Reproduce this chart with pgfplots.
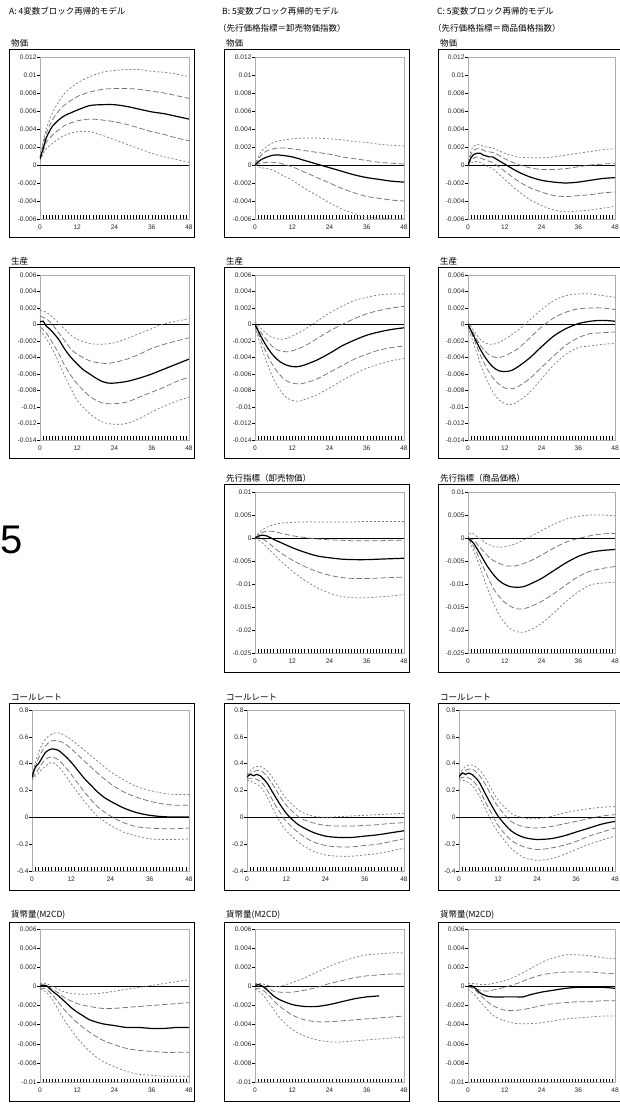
\documentclass[border=0pt]{standalone}
\usepackage{pgfplots}
\pgfplotsset{compat=1.18}
\usepackage{fontspec}
\setmainfont{Liberation Sans}
\newfontfamily\jp{Noto Sans CJK JP}
\pgfplotsset{
 panel/.style={scale only axis, anchor=south west, xmin=0, xmax=48,
  xtick={0,12,24,36,48}, minor x tick num=11, xtick pos=left, ytick pos=left,
  tick align=inside, axis line style={draw=gray!65, line width=0.5pt},
  every tick/.style={black, line width=0.35pt},
  major tick length=3.5pt, minor tick length=3.5pt,
  y tick style={xshift=-3pt},
  ticklabel style={font=\fontsize{6.6}{7}\selectfont, text=black!85},
  x tick label style={yshift=-2pt},
  /pgf/number format/assume math mode=true,
  scaled y ticks=false,
  yticklabel style={/pgf/number format/fixed, /pgf/number format/precision=3},
 },
 r1/.style={ymin=-0.006, ymax=0.012, ytick={-0.006,-0.004,-0.002,0,0.002,0.004,0.006,0.008,0.01,0.012}},
 r2/.style={ymin=-0.014, ymax=0.006, ytick={-0.014,-0.012,-0.01,-0.008,-0.006,-0.004,-0.002,0,0.002,0.004,0.006}},
 r3/.style={ymin=-0.025, ymax=0.01, ytick={-0.025,-0.02,-0.015,-0.01,-0.005,0,0.005,0.01}},
 r4/.style={ymin=-0.4, ymax=0.8, ytick={-0.4,-0.2,0,0.2,0.4,0.6,0.8}},
 r5/.style={ymin=-0.01, ymax=0.006, ytick={-0.01,-0.008,-0.006,-0.004,-0.002,0,0.002,0.004,0.006}},
 mid/.style={black, line width=1.2pt, smooth},
 ld/.style={black!55, line width=0.75pt, dash pattern=on 5.5pt off 2.5pt, smooth},
 sd/.style={black!50, line width=0.75pt, dash pattern=on 2pt off 2pt, smooth},
 zl/.style={black, line width=0.4pt},
}
\newcommand{\ttl}[3]{\node[anchor=west, inner sep=0pt, font=\jp\fontsize{8.5}{9}\selectfont] at (#1pt,#2pt) {#3};}
\begin{document}
\begin{tikzpicture}
% header
\node[anchor=west, inner sep=0pt, font=\jp\fontsize{8.5}{9}\selectfont] at (9pt,1093pt) {A:\ 4変数ブロック再帰的モデル};
\node[anchor=west, inner sep=0pt, font=\jp\fontsize{8.5}{9}\selectfont] at (222pt,1093pt) {B:\ 5変数ブロック再帰的モデル};
\node[anchor=west, inner sep=0pt, font=\jp\fontsize{8.5}{9}\selectfont] at (218pt,1076pt) {（先行価格指標＝卸売物価指数）};
\node[anchor=west, inner sep=0pt, font=\jp\fontsize{8.5}{9}\selectfont] at (437pt,1093pt) {C:\ 5変数ブロック再帰的モデル};
\node[anchor=west, inner sep=0pt, font=\jp\fontsize{8.5}{9}\selectfont] at (433pt,1076pt) {（先行価格指標＝商品価格指数）};
\node[font=\fontsize{40}{44}\selectfont, inner sep=0pt, anchor=west] at (0.5pt,564pt) {5};
% frames
\draw[black, line width=0.6pt] (9pt,1055pt) rectangle (194pt,867pt);
\draw[black, line width=0.6pt] (224pt,1055pt) rectangle (409pt,867pt);
\draw[black, line width=0.6pt] (438pt,1055pt) rectangle (625pt,867pt);
\draw[black, line width=0.6pt] (9pt,837pt) rectangle (194pt,646pt);
\draw[black, line width=0.6pt] (224pt,837pt) rectangle (409pt,646pt);
\draw[black, line width=0.6pt] (438pt,837pt) rectangle (625pt,646pt);
\draw[black, line width=0.6pt] (224pt,620pt) rectangle (409pt,432pt);
\draw[black, line width=0.6pt] (438pt,620pt) rectangle (625pt,432pt);
\draw[black, line width=0.6pt] (9pt,401pt) rectangle (194pt,214pt);
\draw[black, line width=0.6pt] (224pt,401pt) rectangle (409pt,214pt);
\draw[black, line width=0.6pt] (438pt,401pt) rectangle (625pt,214pt);
\draw[black, line width=0.6pt] (9pt,182pt) rectangle (194pt,3pt);
\draw[black, line width=0.6pt] (224pt,182pt) rectangle (409pt,3pt);
\draw[black, line width=0.6pt] (438pt,182pt) rectangle (625pt,3pt);
% titles
\ttl{11}{1061}{物価}\ttl{226}{1061}{物価}\ttl{440}{1061}{物価}
\ttl{11}{843}{生産}\ttl{226}{843}{生産}\ttl{440}{843}{生産}
\ttl{226}{626}{先行指標（卸売物価）}\ttl{440}{626}{先行指標（商品価格）}
\ttl{11}{407}{コールレート}\ttl{226}{407}{コールレート}\ttl{440}{407}{コールレート}
\ttl{11}{189}{貨幣量(M2CD)}\ttl{226}{189}{貨幣量(M2CD)}\ttl{440}{189}{貨幣量(M2CD)}

% ===== Row 1 =====
\begin{axis}[panel, r1, at={(40pt,885pt)}, width=149pt, height=162pt]
\addplot[zl] coordinates {(0,0)(48,0)};
\addplot[sd] coordinates {(0,0.0009)(1,0.0025)(2,0.004)(4,0.0058)(6,0.007)(8,0.008)(12,0.0091)(16,0.0098)(20,0.0103)(24,0.0105)(28,0.0106)(32,0.0106)(36,0.0104)(40,0.0103)(44,0.0101)(48,0.0098)};
\addplot[ld] coordinates {(0,0.0008)(1,0.0022)(2,0.0035)(4,0.005)(6,0.006)(8,0.0067)(12,0.0076)(16,0.0081)(20,0.0084)(24,0.0085)(28,0.0085)(32,0.0084)(36,0.0082)(40,0.008)(44,0.0077)(48,0.0074)};
\addplot[ld] coordinates {(0,0.0006)(1,0.0015)(2,0.0025)(4,0.0033)(6,0.0039)(8,0.0044)(12,0.0049)(16,0.0051)(20,0.005)(24,0.0048)(28,0.0045)(32,0.0041)(36,0.0037)(40,0.0034)(44,0.003)(48,0.0027)};
\addplot[sd] coordinates {(0,0.0005)(1,0.0012)(2,0.0018)(4,0.0024)(6,0.0029)(8,0.0033)(12,0.0037)(16,0.0037)(20,0.0033)(24,0.0028)(28,0.0023)(32,0.0018)(36,0.0013)(40,0.0009)(44,0.0006)(48,0.0003)};
\addplot[mid] coordinates {(0,0.0007)(1,0.0018)(2,0.003)(3,0.0037)(4,0.0043)(6,0.005)(8,0.0055)(10,0.0058)(12,0.0061)(16,0.0066)(20,0.0067)(24,0.0067)(28,0.0065)(32,0.0062)(36,0.0059)(40,0.0057)(44,0.0054)(48,0.0051)};
\end{axis}
\begin{axis}[panel, r1, at={(255pt,885pt)}, width=149pt, height=162pt]
\addplot[zl] coordinates {(0,0)(48,0)};
\addplot[sd] coordinates {(0,0)(2,0.0015)(4,0.0021)(6,0.0025)(8,0.0027)(12,0.0029)(16,0.003)(20,0.003)(24,0.0029)(28,0.0028)(32,0.0026)(36,0.0025)(40,0.0023)(44,0.0022)(48,0.0021)};
\addplot[ld] coordinates {(0,0)(2,0.0011)(4,0.0016)(6,0.0018)(8,0.0019)(12,0.0018)(16,0.0016)(20,0.0014)(24,0.0012)(28,0.0009)(32,0.0007)(36,0.0005)(40,0.0003)(44,0.0002)(48,0.0001)};
\addplot[ld] coordinates {(0,0)(2,0.0002)(4,0.0003)(6,0.0003)(8,0.0002)(12,-0.0002)(16,-0.0008)(20,-0.0014)(24,-0.002)(28,-0.0026)(32,-0.0031)(36,-0.0035)(40,-0.0037)(44,-0.0039)(48,-0.004)};
\addplot[sd] coordinates {(0,0)(2,-0.0003)(4,-0.0004)(6,-0.0006)(8,-0.001)(12,-0.0017)(16,-0.0026)(20,-0.0034)(24,-0.0042)(28,-0.0049)(32,-0.0054)(36,-0.0058)(40,-0.0059)(44,-0.006)(48,-0.006)};
\addplot[mid] coordinates {(0,0)(2,0.0006)(4,0.0009)(6,0.0011)(8,0.0011)(12,0.0009)(16,0.0005)(20,0.0001)(24,-0.0003)(28,-0.0007)(32,-0.0011)(36,-0.0014)(40,-0.0016)(44,-0.0018)(48,-0.0019)};
\end{axis}
\begin{axis}[panel, r1, at={(468pt,885pt)}, width=147pt, height=162pt]
\addplot[zl] coordinates {(0,0)(48,0)};
\addplot[sd] coordinates {(0,0)(1,0.0016)(2,0.0021)(3,0.0023)(4,0.0022)(6,0.002)(8,0.0019)(10,0.0016)(12,0.0013)(16,0.0009)(20,0.0008)(24,0.0008)(28,0.0009)(32,0.0011)(36,0.0013)(40,0.0015)(44,0.0017)(48,0.0018)};
\addplot[ld] coordinates {(0,0)(1,0.0012)(2,0.0017)(3,0.0018)(4,0.0018)(6,0.0015)(8,0.0014)(10,0.0011)(12,0.0007)(16,0.0001)(20,-0.0003)(24,-0.0005)(28,-0.0005)(32,-0.0004)(36,-0.0002)(40,0)(44,0.0001)(48,0.0002)};
\addplot[ld] coordinates {(0,0)(1,0.0005)(2,0.0008)(3,0.0009)(4,0.0008)(6,0.0005)(8,0.0003)(10,-0.0002)(12,-0.0007)(16,-0.0017)(20,-0.0025)(24,-0.003)(28,-0.0034)(32,-0.0035)(36,-0.0034)(40,-0.0033)(44,-0.0031)(48,-0.003)};
\addplot[sd] coordinates {(0,0)(1,0.0002)(2,0.0004)(3,0.0004)(4,0.0003)(6,-0.0001)(8,-0.0004)(10,-0.001)(12,-0.0016)(16,-0.0028)(20,-0.0038)(24,-0.0045)(28,-0.005)(32,-0.0052)(36,-0.0051)(40,-0.005)(44,-0.0048)(48,-0.0046)};
\addplot[mid] coordinates {(0,0)(1,0.0008)(2,0.0012)(3,0.0013)(4,0.0013)(5,0.0011)(6,0.001)(7,0.0009)(8,0.0009)(10,0.0005)(12,0.0001)(16,-0.0007)(20,-0.0013)(24,-0.0017)(28,-0.0019)(32,-0.002)(36,-0.0019)(40,-0.0017)(44,-0.0015)(48,-0.0014)};
\end{axis}

% ===== Row 2 =====
\begin{axis}[panel, r2, at={(40pt,664pt)}, width=149pt, height=165pt]
\addplot[zl] coordinates {(0,0)(48,0)};
\addplot[sd] coordinates {(0,0.0017)(2,0.0015)(4,0.0009)(6,0.0002)(8,-0.0006)(10,-0.0013)(12,-0.0018)(16,-0.0023)(20,-0.0024)(24,-0.0022)(28,-0.0017)(32,-0.0011)(36,-0.0005)(40,0.0001)(44,0.0004)(48,0.0007)};
\addplot[ld] coordinates {(0,0.001)(2,0.0007)(4,0)(6,-0.001)(8,-0.002)(10,-0.003)(12,-0.0036)(16,-0.0044)(20,-0.0047)(22,-0.0047)(24,-0.0046)(28,-0.0042)(32,-0.0036)(36,-0.0029)(40,-0.0024)(44,-0.002)(48,-0.0016)};
\addplot[ld] coordinates {(0,-0.0003)(2,-0.001)(4,-0.0022)(6,-0.0035)(8,-0.005)(10,-0.0062)(12,-0.0072)(16,-0.0087)(20,-0.0095)(24,-0.0096)(28,-0.0094)(32,-0.0088)(36,-0.0082)(40,-0.0076)(44,-0.0069)(48,-0.0064)};
\addplot[sd] coordinates {(0,-0.0007)(2,-0.0017)(4,-0.003)(6,-0.0046)(8,-0.0063)(10,-0.0078)(12,-0.0092)(16,-0.0108)(20,-0.0118)(24,-0.0121)(28,-0.012)(32,-0.0114)(36,-0.0106)(40,-0.0099)(44,-0.0093)(48,-0.0088)};
\addplot[mid] coordinates {(0,0.0003)(1,0.0004)(2,-0.0002)(3,-0.0005)(4,-0.0009)(6,-0.0018)(8,-0.003)(10,-0.004)(12,-0.0048)(14,-0.0055)(16,-0.006)(18,-0.0065)(20,-0.0069)(22,-0.0071)(24,-0.0071)(28,-0.0069)(32,-0.0065)(36,-0.006)(40,-0.0054)(44,-0.0048)(48,-0.0042)};
\end{axis}
\begin{axis}[panel, r2, at={(255pt,664pt)}, width=149pt, height=165pt]
\addplot[zl] coordinates {(0,0)(48,0)};
\addplot[sd] coordinates {(0,0.0003)(2,-0.0005)(4,-0.0012)(6,-0.0016)(8,-0.0018)(10,-0.0017)(12,-0.0014)(16,-0.0006)(20,0.0004)(24,0.0014)(28,0.0022)(32,0.0029)(36,0.0033)(40,0.0036)(44,0.0037)(48,0.0037)};
\addplot[ld] coordinates {(0,0)(2,-0.001)(4,-0.002)(6,-0.0028)(8,-0.0032)(10,-0.0033)(12,-0.0032)(16,-0.0026)(20,-0.0017)(24,-0.0008)(28,0)(32,0.0007)(36,0.0013)(40,0.0017)(44,0.002)(48,0.0022)};
\addplot[ld] coordinates {(0,0)(2,-0.002)(4,-0.0037)(6,-0.0051)(8,-0.0061)(10,-0.0068)(12,-0.0071)(14,-0.0072)(16,-0.0071)(20,-0.0066)(24,-0.0058)(28,-0.005)(32,-0.0042)(36,-0.0036)(40,-0.0031)(44,-0.0028)(48,-0.0026)};
\addplot[sd] coordinates {(0,-0.0003)(2,-0.0027)(4,-0.0048)(6,-0.0066)(8,-0.0079)(10,-0.0088)(12,-0.0092)(14,-0.0093)(16,-0.0091)(20,-0.0085)(24,-0.0077)(28,-0.0068)(32,-0.006)(36,-0.0053)(40,-0.0048)(44,-0.0044)(48,-0.0041)};
\addplot[mid] coordinates {(0,0)(2,-0.0015)(4,-0.0028)(6,-0.0038)(8,-0.0045)(10,-0.0049)(12,-0.0051)(14,-0.0051)(16,-0.0049)(20,-0.0043)(24,-0.0035)(28,-0.0026)(32,-0.0019)(36,-0.0013)(40,-0.0009)(44,-0.0006)(48,-0.0004)};
\end{axis}
\begin{axis}[panel, r2, at={(468pt,664pt)}, width=147pt, height=165pt]
\addplot[zl] coordinates {(0,0)(48,0)};
\addplot[sd] coordinates {(0,0.0003)(2,-0.0008)(4,-0.0018)(6,-0.0023)(8,-0.0024)(10,-0.0022)(12,-0.0018)(16,-0.0008)(20,0.0005)(24,0.0018)(28,0.0029)(32,0.0035)(36,0.0037)(40,0.0037)(44,0.0035)(48,0.0033)};
\addplot[ld] coordinates {(0,0)(2,-0.0012)(4,-0.0025)(6,-0.0034)(8,-0.0039)(10,-0.004)(12,-0.0038)(16,-0.003)(20,-0.0017)(24,-0.0003)(28,0.0008)(32,0.0015)(36,0.0019)(40,0.002)(44,0.002)(48,0.0018)};
\addplot[ld] coordinates {(0,0)(2,-0.0018)(4,-0.0037)(6,-0.0052)(8,-0.0064)(10,-0.0072)(12,-0.0077)(14,-0.0078)(16,-0.0076)(20,-0.0066)(24,-0.0052)(28,-0.0038)(32,-0.0025)(36,-0.0016)(40,-0.0011)(44,-0.001)(48,-0.0009)};
\addplot[sd] coordinates {(0,-0.0003)(2,-0.0025)(4,-0.0047)(6,-0.0066)(8,-0.0081)(10,-0.0091)(12,-0.0096)(14,-0.0097)(16,-0.0094)(20,-0.0083)(24,-0.0066)(28,-0.0049)(32,-0.0036)(36,-0.0028)(40,-0.0026)(44,-0.0024)(48,-0.0023)};
\addplot[mid] coordinates {(0,0)(2,-0.0015)(4,-0.003)(6,-0.0042)(8,-0.0051)(10,-0.0056)(12,-0.0057)(14,-0.0056)(16,-0.0052)(20,-0.0041)(24,-0.0027)(28,-0.0014)(32,-0.0005)(36,0.0001)(40,0.0004)(44,0.0005)(48,0.0004)};
\end{axis}

% ===== Row 3 =====
\begin{axis}[panel, r3, at={(255pt,451pt)}, width=149pt, height=161pt]
\addplot[zl] coordinates {(0,0)(48,0)};
\addplot[sd] coordinates {(0,0)(2,0.0016)(4,0.0024)(6,0.0029)(8,0.0032)(12,0.0034)(16,0.0035)(20,0.0035)(24,0.0035)(28,0.0035)(32,0.0035)(36,0.0036)(40,0.0036)(44,0.0036)(48,0.0036)};
\addplot[ld] coordinates {(0,0)(2,0.0011)(4,0.0015)(6,0.0014)(8,0.0011)(12,0.0005)(16,0.0001)(20,-0.0002)(24,-0.0004)(28,-0.0005)(32,-0.0006)(36,-0.0006)(40,-0.0006)(44,-0.0005)(48,-0.0005)};
\addplot[ld] coordinates {(0,0)(2,0)(4,-0.0009)(6,-0.002)(8,-0.0031)(12,-0.0048)(16,-0.0062)(20,-0.0073)(24,-0.0081)(28,-0.0086)(32,-0.0088)(36,-0.0088)(40,-0.0087)(44,-0.0086)(48,-0.0085)};
\addplot[sd] coordinates {(0,0)(2,-0.0008)(4,-0.0021)(6,-0.0035)(8,-0.0048)(12,-0.0072)(16,-0.0092)(20,-0.0108)(24,-0.012)(28,-0.0127)(32,-0.013)(36,-0.013)(40,-0.0128)(44,-0.0126)(48,-0.0123)};
\addplot[mid] coordinates {(0,0)(2,0.0006)(4,0.0004)(6,-0.0003)(8,-0.0009)(12,-0.0021)(16,-0.0031)(20,-0.0039)(24,-0.0043)(28,-0.0046)(32,-0.0047)(36,-0.0047)(40,-0.0046)(44,-0.0045)(48,-0.0044)};
\end{axis}
\begin{axis}[panel, r3, at={(468pt,451pt)}, width=147pt, height=161pt]
\addplot[zl] coordinates {(0,0)(48,0)};
\addplot[sd] coordinates {(0,0)(1,0.0012)(2,0.0008)(4,-0.0002)(6,-0.0012)(8,-0.0017)(10,-0.002)(12,-0.0019)(14,-0.0016)(16,-0.0011)(20,0.0002)(24,0.0016)(28,0.003)(32,0.0041)(36,0.0047)(40,0.005)(44,0.005)(48,0.0048)};
\addplot[ld] coordinates {(0,0)(2,-0.0006)(4,-0.0021)(6,-0.0036)(8,-0.0048)(12,-0.006)(14,-0.0061)(16,-0.006)(20,-0.0051)(24,-0.0037)(28,-0.0022)(32,-0.0009)(36,-0.0001)(40,0.0005)(44,0.0009)(48,0.001)};
\addplot[ld] coordinates {(0,0)(2,-0.002)(4,-0.0049)(6,-0.0078)(8,-0.0106)(10,-0.0126)(12,-0.014)(14,-0.0149)(16,-0.0154)(18,-0.0154)(20,-0.015)(24,-0.0138)(28,-0.0121)(32,-0.0102)(36,-0.0084)(40,-0.0072)(44,-0.0066)(48,-0.0062)};
\addplot[sd] coordinates {(0,0)(2,-0.003)(4,-0.0065)(6,-0.0103)(8,-0.0137)(10,-0.0165)(12,-0.0185)(14,-0.0198)(16,-0.0204)(18,-0.0205)(20,-0.0201)(24,-0.0186)(28,-0.0163)(32,-0.0138)(36,-0.0117)(40,-0.0102)(44,-0.0098)(48,-0.0096)};
\addplot[mid] coordinates {(0,0)(1,-0.0006)(2,-0.0013)(4,-0.0035)(6,-0.0058)(8,-0.0077)(10,-0.0092)(12,-0.0101)(14,-0.0106)(16,-0.0107)(18,-0.0106)(20,-0.0101)(24,-0.0088)(28,-0.0071)(32,-0.0054)(36,-0.004)(40,-0.0031)(44,-0.0027)(48,-0.0025)};
\end{axis}

% ===== Row 4 =====
\begin{axis}[panel, r4, at={(32pt,233pt)}, width=157pt, height=161pt]
\addplot[zl] coordinates {(0,0)(48,0)};
\addplot[sd] coordinates {(0,0.32)(2,0.48)(4,0.58)(6,0.62)(8,0.63)(10,0.61)(12,0.58)(16,0.5)(20,0.42)(24,0.34)(28,0.28)(32,0.23)(36,0.2)(40,0.18)(44,0.17)(48,0.17)};
\addplot[ld] coordinates {(0,0.31)(2,0.44)(4,0.53)(6,0.57)(8,0.57)(10,0.55)(12,0.51)(16,0.42)(20,0.33)(24,0.25)(28,0.19)(32,0.15)(36,0.12)(40,0.1)(44,0.09)(48,0.09)};
\addplot[ld] coordinates {(0,0.29)(2,0.36)(4,0.43)(6,0.45)(8,0.43)(10,0.38)(12,0.32)(16,0.19)(20,0.08)(24,0.01)(28,-0.04)(32,-0.07)(36,-0.08)(40,-0.085)(44,-0.085)(48,-0.08)};
\addplot[sd] coordinates {(0,0.28)(2,0.33)(4,0.38)(6,0.41)(8,0.38)(10,0.32)(12,0.25)(16,0.12)(20,0.01)(24,-0.06)(28,-0.11)(32,-0.14)(36,-0.16)(40,-0.165)(44,-0.165)(48,-0.16)};
\addplot[mid] coordinates {(0,0.3)(1,0.37)(2,0.4)(3,0.44)(4,0.48)(5,0.5)(6,0.51)(8,0.5)(10,0.46)(12,0.41)(14,0.35)(16,0.29)(18,0.24)(20,0.19)(22,0.15)(24,0.12)(28,0.07)(32,0.035)(36,0.015)(40,0.005)(44,0.002)(48,0.002)};
\end{axis}
\begin{axis}[panel, r4, at={(247pt,233pt)}, width=157pt, height=161pt]
\addplot[zl] coordinates {(0,0)(48,0)};
\addplot[sd] coordinates {(0,0.32)(2,0.37)(4,0.38)(6,0.35)(8,0.29)(10,0.21)(12,0.14)(16,0.05)(20,0.01)(24,0)(28,0.005)(32,0.01)(36,0.015)(40,0.02)(44,0.025)(48,0.03)};
\addplot[ld] coordinates {(0,0.31)(2,0.34)(4,0.35)(6,0.31)(8,0.24)(10,0.16)(12,0.09)(16,0)(20,-0.04)(24,-0.06)(28,-0.065)(32,-0.065)(36,-0.06)(40,-0.055)(44,-0.045)(48,-0.04)};
\addplot[ld] coordinates {(0,0.29)(2,0.29)(4,0.27)(6,0.21)(8,0.12)(10,0.04)(12,-0.03)(16,-0.12)(20,-0.18)(24,-0.21)(28,-0.22)(32,-0.22)(36,-0.21)(40,-0.2)(44,-0.18)(48,-0.16)};
\addplot[sd] coordinates {(0,0.28)(2,0.26)(4,0.23)(6,0.16)(8,0.06)(10,-0.03)(12,-0.1)(16,-0.19)(20,-0.25)(24,-0.28)(28,-0.29)(32,-0.29)(36,-0.28)(40,-0.27)(44,-0.25)(48,-0.23)};
\addplot[mid] coordinates {(0,0.3)(1,0.32)(2,0.31)(3,0.32)(4,0.31)(6,0.26)(8,0.18)(10,0.1)(12,0.03)(14,-0.02)(16,-0.06)(20,-0.11)(24,-0.14)(28,-0.15)(32,-0.15)(36,-0.14)(40,-0.13)(44,-0.115)(48,-0.1)};
\end{axis}
\begin{axis}[panel, r4, at={(459pt,233pt)}, width=156pt, height=161pt]
\addplot[zl] coordinates {(0,0)(48,0)};
\addplot[sd] coordinates {(0,0.32)(2,0.38)(4,0.39)(6,0.36)(8,0.3)(10,0.21)(12,0.13)(16,0.03)(20,-0.005)(24,-0.01)(28,0.005)(32,0.03)(36,0.05)(40,0.065)(44,0.075)(48,0.08)};
\addplot[ld] coordinates {(0,0.31)(2,0.35)(4,0.36)(6,0.32)(8,0.25)(10,0.16)(12,0.08)(16,-0.03)(20,-0.07)(24,-0.08)(28,-0.07)(32,-0.05)(36,-0.03)(40,-0.01)(44,0.01)(48,0.02)};
\addplot[ld] coordinates {(0,0.29)(2,0.3)(4,0.28)(6,0.22)(8,0.12)(10,0.03)(12,-0.06)(16,-0.17)(20,-0.22)(24,-0.24)(28,-0.23)(32,-0.21)(36,-0.18)(40,-0.14)(44,-0.11)(48,-0.08)};
\addplot[sd] coordinates {(0,0.28)(2,0.27)(4,0.24)(6,0.17)(8,0.07)(10,-0.03)(12,-0.11)(16,-0.23)(20,-0.3)(24,-0.32)(28,-0.31)(32,-0.28)(36,-0.24)(40,-0.2)(44,-0.17)(48,-0.14)};
\addplot[mid] coordinates {(0,0.3)(1,0.33)(2,0.32)(3,0.33)(4,0.32)(6,0.27)(8,0.18)(10,0.09)(12,0.01)(14,-0.05)(16,-0.1)(18,-0.13)(20,-0.15)(22,-0.16)(24,-0.165)(28,-0.16)(32,-0.14)(36,-0.11)(40,-0.08)(44,-0.05)(48,-0.03)};
\end{axis}

% ===== Row 5 =====
\begin{axis}[panel, r5, at={(40pt,22pt)}, width=149pt, height=153pt]
\addplot[zl] coordinates {(0,0)(48,0)};
\addplot[sd] coordinates {(0,0.0003)(2,0.0003)(4,0)(6,-0.0003)(8,-0.0006)(12,-0.0008)(16,-0.0008)(20,-0.0007)(24,-0.0005)(28,-0.0003)(32,-0.0001)(36,0.0001)(40,0.0003)(44,0.0005)(48,0.0007)};
\addplot[ld] coordinates {(0,0.0002)(2,0.0001)(4,-0.0003)(6,-0.0007)(8,-0.0012)(12,-0.0018)(16,-0.0021)(20,-0.0023)(24,-0.0023)(28,-0.0022)(32,-0.0021)(36,-0.002)(40,-0.0019)(44,-0.0018)(48,-0.0017)};
\addplot[ld] coordinates {(0,-0.0002)(2,-0.0003)(4,-0.0009)(6,-0.0017)(8,-0.0025)(12,-0.0038)(16,-0.0048)(20,-0.0056)(24,-0.0061)(28,-0.0065)(32,-0.0067)(36,-0.0068)(40,-0.0069)(44,-0.0069)(48,-0.0069)};
\addplot[sd] coordinates {(0,-0.0003)(2,-0.0006)(4,-0.0014)(6,-0.0025)(8,-0.0036)(12,-0.0054)(16,-0.0068)(20,-0.0078)(24,-0.0084)(28,-0.0089)(32,-0.0092)(36,-0.0093)(40,-0.0094)(44,-0.0094)(48,-0.0094)};
\addplot[mid] coordinates {(0,0)(1,0.0001)(2,0.0001)(3,-0.0002)(4,-0.0005)(6,-0.001)(8,-0.0016)(10,-0.0022)(12,-0.0027)(14,-0.0031)(16,-0.0035)(20,-0.0039)(24,-0.0041)(28,-0.0043)(32,-0.0043)(36,-0.0044)(40,-0.0044)(44,-0.0043)(48,-0.0043)};
\end{axis}
\begin{axis}[panel, r5, at={(255pt,22pt)}, width=149pt, height=153pt]
\addplot[zl] coordinates {(0,0)(48,0)};
\addplot[sd] coordinates {(0,0.0003)(2,0.0003)(4,0.0001)(6,0)(8,0)(12,0.0004)(16,0.0009)(20,0.0015)(24,0.0021)(28,0.0026)(32,0.003)(36,0.0033)(40,0.0034)(44,0.0035)(48,0.0035)};
\addplot[ld] coordinates {(0,0.0002)(2,0.0001)(4,-0.0002)(6,-0.0005)(8,-0.0006)(12,-0.0006)(16,-0.0004)(20,-0.0001)(24,0.0003)(28,0.0006)(32,0.0009)(36,0.0011)(40,0.0012)(44,0.0013)(48,0.0013)};
\addplot[ld] coordinates {(0,-0.0002)(2,-0.0003)(4,-0.0008)(6,-0.0015)(8,-0.0021)(12,-0.003)(16,-0.0035)(20,-0.0037)(24,-0.0037)(28,-0.0036)(32,-0.0035)(36,-0.0034)(40,-0.0033)(44,-0.0032)(48,-0.0031)};
\addplot[sd] coordinates {(0,-0.0003)(2,-0.0007)(4,-0.0015)(6,-0.0024)(8,-0.0033)(12,-0.0045)(16,-0.0052)(20,-0.0056)(24,-0.0058)(28,-0.0058)(32,-0.0057)(36,-0.0056)(40,-0.0055)(44,-0.0054)(48,-0.0053)};
\addplot[mid] coordinates {(0,0)(1,0.0002)(2,0.0001)(4,-0.0004)(6,-0.001)(8,-0.0014)(12,-0.0019)(16,-0.0021)(20,-0.0021)(24,-0.0019)(28,-0.0016)(32,-0.0013)(36,-0.0011)(40,-0.001)};
\end{axis}
\begin{axis}[panel, r5, at={(468pt,22pt)}, width=147pt, height=153pt]
\addplot[zl] coordinates {(0,0)(48,0)};
\addplot[sd] coordinates {(0,0.0003)(2,0.0003)(4,0.0002)(6,0.0002)(8,0.0003)(12,0.0006)(16,0.0011)(20,0.0018)(24,0.0025)(28,0.003)(32,0.0033)(36,0.0033)(40,0.0032)(44,0.003)(48,0.0029)};
\addplot[ld] coordinates {(0,0)(2,-0.0002)(4,-0.0004)(6,-0.0005)(8,-0.0004)(12,-0.0001)(16,0.0003)(20,0.0008)(24,0.0012)(28,0.0014)(32,0.0015)(36,0.0015)(40,0.0015)(44,0.0014)(48,0.0013)};
\addplot[ld] coordinates {(0,0)(2,-0.0003)(4,-0.0009)(6,-0.0015)(8,-0.002)(12,-0.0025)(16,-0.0025)(20,-0.0023)(24,-0.002)(28,-0.0018)(32,-0.0017)(36,-0.0016)(40,-0.0016)(44,-0.0015)(48,-0.0015)};
\addplot[sd] coordinates {(0,-0.0003)(2,-0.0008)(4,-0.0016)(6,-0.0023)(8,-0.003)(12,-0.0036)(16,-0.0039)(20,-0.0039)(24,-0.0038)(28,-0.0036)(32,-0.0034)(36,-0.0033)(40,-0.0032)(44,-0.0031)(48,-0.0031)};
\addplot[mid] coordinates {(0,0)(1,0.0001)(2,-0.0001)(3,-0.0004)(4,-0.0007)(6,-0.001)(8,-0.0011)(12,-0.0011)(16,-0.0011)(18,-0.0011)(20,-0.0009)(24,-0.0006)(28,-0.0004)(32,-0.0002)(36,-0.0001)(40,-0.0001)(44,-0.0001)(48,-0.0002)};
\end{axis}
\pgfresetboundingbox
\useasboundingbox (0pt,0pt) rectangle (619pt,1104pt);
\end{tikzpicture}
\end{document}
